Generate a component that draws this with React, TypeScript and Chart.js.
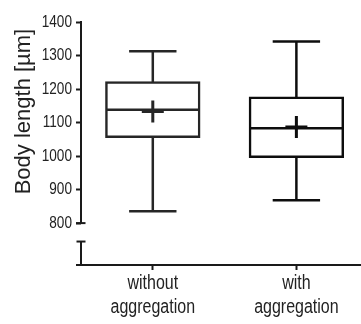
import { useEffect, useRef } from "react";
import { Chart, registerables } from "chart.js";

Chart.register(...registerables);

// ---- data ----
const categories: string[][] = [
  ["without", "aggregation"],
  ["with", "aggregation"],
];
const whiskerMin = [835, 868];
const q1 = [1057, 997];
const median = [1138, 1083];
const q3 = [1220, 1175];
const whiskerMax = [1313, 1342];
const mean = [1133, 1087];
const yTicks = [800, 900, 1000, 1100, 1200, 1300, 1400];
const yTitle = "Body length [µm]";
const axisMin = 675;
const axisMax = 1400;
const breakUpper = 800; // upper axis segment ends here
const breakLower = 745; // lower axis segment starts here

// ---- styles ----
const FONT = "'Liberation Sans', Arial, Helvetica, sans-serif";
const boxColors = ["#262626", "#0d0d0d"];
const axisColor = "#1a1a1a";
const textColor = "#222222";
const capFraction = 0.33;
const condense = 0.8;

const narrowTextPlugin = {
  id: "narrowText",
  beforeDraw(chart: any) {
    const ctx = chart.ctx;
    const orig = CanvasRenderingContext2D.prototype.fillText;
    ctx.fillText = function (t: string, x: number, y: number, mw?: number) {
      this.save();
      this.translate(x, y);
      this.scale(condense, 1);
      if (mw === undefined) orig.call(this, t, 0, 0);
      else orig.call(this, t, 0, 0, mw / condense);
      this.restore();
    };
  },
  beforeDatasetsDraw(chart: any) {
    delete chart.ctx.fillText;
  },
};

const extrasPlugin = {
  id: "boxExtras",
  afterDatasetsDraw(chart: any) {
    const { ctx, scales } = chart;
    const x = scales.x;
    const y = scales.y;
    const barMeta = chart.getDatasetMeta(1);
    const line = (x1: number, y1: number, x2: number, y2: number) => {
      ctx.beginPath();
      ctx.moveTo(x1, y1);
      ctx.lineTo(x2, y2);
      ctx.stroke();
    };
    ctx.save();
    ctx.lineCap = "butt";
    categories.forEach((_, i) => {
      const bar = barMeta.data[i];
      const cx = x.getPixelForValue(i);
      const half = bar.width / 2;
      const capHalf = x.getPixelForValue(i + capFraction / 2) - cx;
      ctx.strokeStyle = boxColors[i];
      ctx.lineWidth = 2.5;
      const yTop = y.getPixelForValue(whiskerMax[i]);
      const yBot = y.getPixelForValue(whiskerMin[i]);
      line(cx, y.getPixelForValue(q3[i]), cx, yTop);
      line(cx, y.getPixelForValue(q1[i]), cx, yBot);
      line(cx - capHalf, yTop, cx + capHalf, yTop);
      line(cx - capHalf, yBot, cx + capHalf, yBot);
      const ym = y.getPixelForValue(median[i]);
      line(cx - half, ym, cx + half, ym);
    });

    // axes with break
    ctx.strokeStyle = axisColor;
    ctx.lineWidth = 2;
    const ax = y.right;
    const bottom = chart.chartArea.bottom;
    line(ax, y.getPixelForValue(axisMax) - 1, ax, y.getPixelForValue(breakUpper));
    const yb = y.getPixelForValue(breakUpper);
    line(ax - 5, yb, ax + 4.5, yb);
    const yl = y.getPixelForValue(breakLower);
    line(ax, yl, ax, bottom + 1);
    line(ax - 4.5, yl, ax + 4.5, yl);
    line(ax - 5, bottom, x.right, bottom);

    // y title
    ctx.save();
    ctx.fillStyle = textColor;
    ctx.font = `22px ${FONT}`;
    ctx.textAlign = "center";
    ctx.textBaseline = "middle";
    ctx.translate(24, (y.getPixelForValue(axisMax) + y.getPixelForValue(breakUpper)) / 2 - 11);
    ctx.rotate(-Math.PI / 2);
    ctx.fillText(yTitle, 0, 0);
    ctx.restore();
    ctx.restore();
  },
};

export default function App() {
  const ref = useRef<HTMLCanvasElement | null>(null);

  useEffect(() => {
    if (!ref.current) return;
    const chart = new Chart(ref.current, {
      type: "bar",
      data: {
        datasets: [
          {
            type: "scatter",
            data: mean.map((m, i) => ({ x: i, y: m })),
            pointStyle: "cross",
            pointRadius: 11,
            pointHoverRadius: 11,
            borderWidth: 3,
            borderColor: boxColors,
            backgroundColor: boxColors,
          } as any,
          {
            type: "bar",
            data: categories.map((_, i) => ({ x: i, y: [q1[i], q3[i]] })),
            backgroundColor: "rgba(255,255,255,0)",
            borderColor: boxColors,
            borderWidth: 0.5,
            borderSkipped: false,
            inflateAmount: 1,
            categoryPercentage: 1,
            barPercentage: 0.65,
          } as any,
        ],
      },
      options: {
        animation: false,
        responsive: true,
        maintainAspectRatio: false,
        layout: { autoPadding: false, padding: { top: 22, left: 0, right: 0, bottom: 0 } },
        plugins: { legend: { display: false }, tooltip: { enabled: false } },
        scales: {
          x: {
            type: "linear",
            min: -0.5,
            max: 1.45,
            offset: false,
            afterBuildTicks: (s: any) => {
              s.ticks = categories.map((_, i) => ({ value: i }));
            },
            afterFit: (s: any) => {
              s.height = 59;
            },
            border: { display: false },
            grid: {
              offset: false,
              drawOnChartArea: false,
              drawTicks: true,
              tickLength: 5,
              tickWidth: 2,
              tickColor: axisColor,
            },
            ticks: {
              autoSkip: false,
              maxRotation: 0,
              padding: 1,
              color: textColor,
              font: { family: FONT, size: 20, lineHeight: 1.2 },
              callback: (v: any) => categories[v as number] ?? "",
            },
          },
          y: {
            type: "linear",
            min: axisMin,
            max: axisMax,
            afterBuildTicks: (s: any) => {
              s.ticks = yTicks.map((v) => ({ value: v }));
            },
            afterFit: (s: any) => {
              s.width = 81;
            },
            border: { display: false },
            grid: {
              drawOnChartArea: false,
              drawTicks: true,
              tickLength: 5,
              tickWidth: 2,
              tickColor: axisColor,
            },
            ticks: {
              padding: 4,
              color: textColor,
              font: { family: FONT, size: 17 },
              callback: (v: any) => String(v),
            },
          },
        },
      },
      plugins: [narrowTextPlugin, extrasPlugin],
    });
    return () => chart.destroy();
  }, []);

  return (
    <div style={{ position: "fixed", left: 0, top: 0, width: 361, height: 324, background: "#fff" }}>
      <canvas ref={ref} />
    </div>
  );
}
